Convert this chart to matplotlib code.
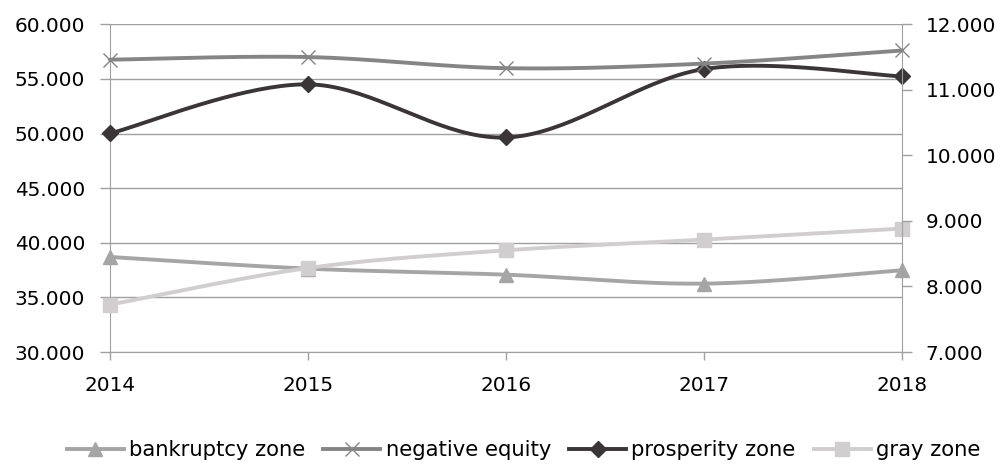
import matplotlib.pyplot as plt
import numpy as np
from matplotlib.lines import Line2D

# Dane
lata = [2014, 2015, 2016, 2017, 2018]
bankruptcy_zone = [38.70, 37.63, 37.08, 36.26, 37.48]   # oś lewa
prosperity_zone = [50.01, 54.50, 49.64, 55.90, 55.23]   # oś lewa
gray_zone = [34.34, 37.69, 39.31, 40.29, 41.30]          # oś lewa
negative_equity = [11.46, 11.50, 11.33, 11.40, 11.60]    # oś prawa

plt.rcParams['font.family'] = ['DejaVu Sans']
ROZMIAR = 14.4
SZARY = '#a0a0a0'


# Wygładzanie jak w Excelu (Catmull-Rom -> Bezier)
def gladka(x, y, n=40):
    x = np.asarray(x, float)
    y = np.asarray(y, float)
    px = np.concatenate([[x[0]], x, [x[-1]]])
    py = np.concatenate([[y[0]], y, [y[-1]]])
    xs, ys = [], []
    t = np.linspace(0, 1, n)
    for i in range(1, len(px) - 2):
        p0 = np.array([px[i], py[i]])
        p3 = np.array([px[i + 1], py[i + 1]])
        p1 = p0 + (np.array([px[i + 1], py[i + 1]]) - np.array([px[i - 1], py[i - 1]])) / 6
        p2 = p3 - (np.array([px[i + 2], py[i + 2]]) - np.array([px[i], py[i]])) / 6
        b = ((1 - t) ** 3)[:, None] * p0 + (3 * (1 - t) ** 2 * t)[:, None] * p1 \
            + (3 * (1 - t) * t ** 2)[:, None] * p2 + (t ** 3)[:, None] * p3
        xs.extend(b[:, 0])
        ys.extend(b[:, 1])
    return xs, ys


fig = plt.figure(figsize=(10.03, 4.66), dpi=100)
ax = fig.add_axes([0.1097, 0.2446, 0.7896, 0.7033])
ax2 = ax.twinx()

kolory = {
    'bankruptcy zone': '#a5a5a5',
    'negative equity': '#858585',
    'prosperity zone': '#3a3536',
    'gray zone': '#d0cece',
}

seria = [
    ('bankruptcy zone', bankruptcy_zone, ax, '^', 10),
    ('negative equity', negative_equity, ax2, 'x', 9.5),
    ('prosperity zone', prosperity_zone, ax, 'D', 8),
    ('gray zone', gray_zone, ax, 's', 9.5),
]

uchwyty = []
for nazwa, dane, os_, marker, ms in seria:
    kol = kolory[nazwa]
    gx, gy = gladka(lata, dane)
    os_.plot(gx, gy, color=kol, lw=2.8, solid_capstyle='round', zorder=3, clip_on=False)
    mew = 1.0
    os_.plot(lata, dane, ls='none', marker=marker, ms=ms, mew=mew, color=kol,
             mec=kol, zorder=4, clip_on=False)
    uchwyty.append(Line2D([0], [0], color=kol, lw=2.8, marker=marker, ms=ms,
                          mew=mew, label=nazwa))

ax.set_xlim(2014, 2018)
ax.set_ylim(30, 60)
ax2.set_ylim(7, 12)
ax.set_yticks(np.arange(30, 61, 5))
ax2.set_yticks(np.arange(7, 12.1, 1))
ax.set_yticklabels([f"{v:.3f}" for v in np.arange(30, 61, 5)])
ax2.set_yticklabels([f"{v:.3f}" for v in np.arange(7, 12.1, 1)])
ax.set_xticks(lata)
ax.set_xticklabels([str(r) for r in lata])

ax.grid(axis='y', color=SZARY, lw=1.0)
ax.set_axisbelow(True)
for a in (ax, ax2):
    for s in a.spines.values():
        s.set_visible(False)
ax.spines['left'].set_visible(True)
ax.spines['left'].set_color(SZARY)
ax.spines['bottom'].set_visible(True)
ax.spines['bottom'].set_color(SZARY)
ax2.spines['right'].set_visible(True)
ax2.spines['right'].set_color(SZARY)

ax.tick_params(axis='y', direction='out', length=7, width=1, color=SZARY,
               labelsize=ROZMIAR, pad=11, labelcolor='black')
ax2.tick_params(axis='y', direction='out', length=7, width=1, color=SZARY,
                labelsize=ROZMIAR, pad=10, labelcolor='black')
ax.tick_params(axis='x', direction='out', length=6, width=1, color=SZARY,
               labelsize=ROZMIAR, pad=11, labelcolor='black')

fig.legend(handles=uchwyty, loc='center', bbox_to_anchor=(0.522, 0.034), ncol=4,
           frameon=False, fontsize=15.2, handlelength=2.7, columnspacing=0.85,
           handletextpad=0.25, borderpad=0)

fig.savefig('out.png', dpi=100)
